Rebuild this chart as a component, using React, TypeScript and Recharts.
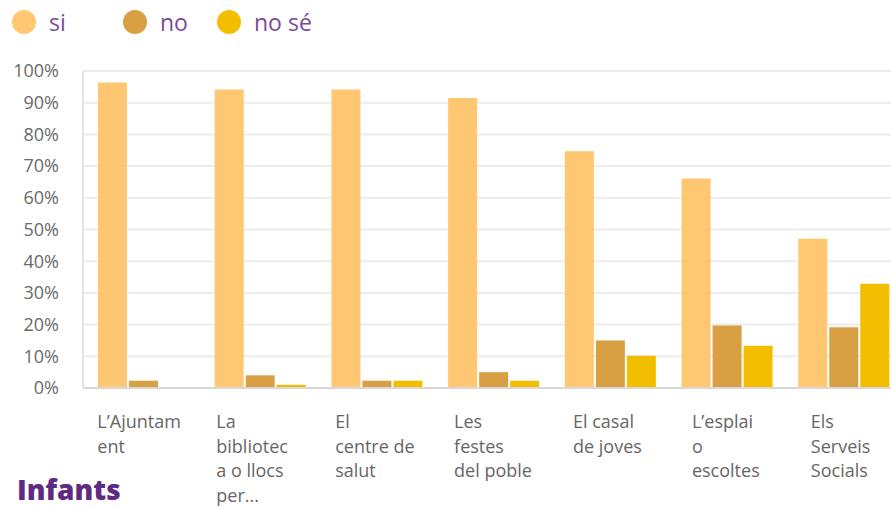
import { Bar, BarChart, CartesianGrid, XAxis, YAxis } from 'recharts';

const categories = [
  'L’Ajuntament',
  'La biblioteca o llocs per...',
  'El centre de salut',
  'Les festes del poble',
  'El casal de joves',
  'L’esplai o escoltes',
  'Els Serveis Socials',
];
const labelLines = [
  ['L’Ajuntam', 'ent'],
  ['La', 'bibliotec', 'a o llocs', 'per...'],
  ['El', 'centre de', 'salut'],
  ['Les', 'festes', 'del poble'],
  ['El casal', 'de joves'],
  ['L’esplai', 'o', 'escoltes'],
  ['Els', 'Serveis', 'Socials'],
];
const siValues = [96.4, 94.2, 94.2, 91.5, 74.7, 66.1, 47.1];
const noValues = [2.3, 4, 2.3, 5, 15, 19.7, 19.2];
const noSeValues = [0, 1, 2.3, 2.3, 10.2, 13.3, 32.9];
const yTicks = [0, 10, 20, 30, 40, 50, 60, 70, 80, 90, 100];

const legendItems = [
  { label: 'si', color: '#FFC771' },
  { label: 'no', color: '#D8A043' },
  { label: 'no sé', color: '#F4BE00' },
];

const data = categories.map((name, i) => ({
  name,
  si: siValues[i],
  no: noValues[i],
  noSe: noSeValues[i],
}));

const font = '"Open Sans", sans-serif';

const XTick = ({ x, y, payload }: any) => {
  const idx = payload.index;
  const lines = labelLines[idx] || [payload.value];
  const tx = x - 46 + 2.2 * idx;
  return (
    <text x={tx} y={y + 40} fill="#666" fontSize={18} fontFamily={font} textAnchor="start">
      {lines.map((l, i) => (
        <tspan key={i} x={tx} dy={i === 0 ? 0 : 24.5}>
          {l}
        </tspan>
      ))}
    </text>
  );
};

const App = () => {
  return (
    <div
      style={{
        position: 'absolute',
        left: 0,
        top: 0,
        width: 891,
        height: 507,
        overflow: 'hidden',
        background: '#fff',
      }}
    >
      <BarChart
        width={910}
        height={507}
        data={data}
        margin={{ top: 71, right: 8, left: 0, bottom: 0 }}
        barSize={29}
        barGap={2}
      >
        <CartesianGrid vertical={false} stroke="#ececec" strokeWidth={2} />
        <YAxis
          width={83}
          domain={[0, 100]}
          ticks={yTicks}
          interval={0}
          tickFormatter={(v) => `${v}%`}
          tickLine={false}
          tickSize={0}
          tickMargin={24}
          axisLine={{ stroke: '#e4e4e4', strokeWidth: 2 }}
          tick={{ fill: '#6a6a6a', fontSize: 18, fontFamily: font }}
        />
        <XAxis
          dataKey="name"
          height={119}
          interval={0}
          padding={{ left: 2, right: 0 }}
          tickLine={false}
          tickSize={0}
          tickMargin={0}
          axisLine={{ stroke: '#d8d8d8', strokeWidth: 2 }}
          tick={<XTick />}
        />
        <Bar dataKey="si" fill="#FFC771" isAnimationActive={false} />
        <Bar dataKey="no" fill="#D8A043" isAnimationActive={false} />
        <Bar dataKey="noSe" fill="#F4BE00" isAnimationActive={false} />
      </BarChart>

      <div style={{ position: 'absolute', left: 0, top: 0, height: 46, width: 340 }}>
        {legendItems.map((item, i) => (
          <div
            key={item.label}
            style={{
              position: 'absolute',
              left: [12, 123, 217][i],
              top: 10,
              display: 'flex',
              alignItems: 'center',
              fontFamily: font,
              fontSize: 23,
              color: '#7b4a9c',
              whiteSpace: 'nowrap',
            }}
          >
            <span
              style={{
                display: 'inline-block',
                width: 24,
                height: 24,
                borderRadius: 12,
                background: item.color,
                marginRight: 13,
              }}
            />
            <span style={{ lineHeight: '24px' }}>{item.label}</span>
          </div>
        ))}
      </div>

      <div
        style={{
          position: 'absolute',
          left: 17,
          top: 472,
          fontFamily: font,
          fontWeight: 800,
          fontSize: 28,
          color: '#5e2a84',
          lineHeight: '34px',
        }}
      >
        Infants
      </div>
    </div>
  );
};

export default App;
